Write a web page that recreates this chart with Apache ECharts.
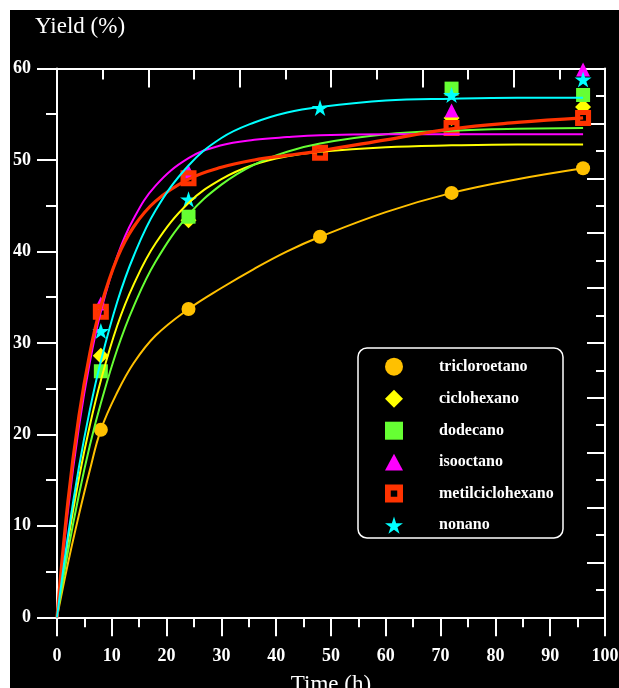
<!DOCTYPE html>
<html><head><meta charset="utf-8">
<script src="https://cdn.jsdelivr.net/npm/echarts@6/dist/echarts.min.js"></script>
<style>html,body{margin:0;padding:0;background:#fff;}#c{position:absolute;left:10px;top:10px;width:609px;height:678px;background:#000;}</style>
</head><body><div id="c"></div>
<script>
// ---- data ----
const seriesNames = ['tricloroetano','ciclohexano','dodecano','isooctano','metilciclohexano','nonano'];
const seriesColors = ['#FFC000','#FFFF00','#66FF33','#FF00FF','#FF3300','#00FFFF'];

// fitted curves
const fitTime = [0, 2, 4, 6, 8, 11, 14, 18, 24, 30, 36, 42, 48, 60, 72, 84, 96];
const fitTricloroetano    = [0, 5.9, 11.2, 16.1, 20.5, 24.6, 27.8, 30.8, 33.7, 36.0, 38.1, 40.0, 41.6, 44.3, 46.4, 47.9, 49.1];
const fitCiclohexano      = [0, 8.3, 15.2, 21.0, 25.9, 31.9, 36.4, 40.9, 45.3, 47.9, 49.5, 50.4, 50.9, 51.4, 51.6, 51.7, 51.7];
const fitDodecano         = [0, 7.2, 13.4, 18.8, 23.4, 29.3, 34.0, 38.9, 44.0, 47.3, 49.5, 50.9, 51.8, 52.8, 53.2, 53.4, 53.5];
const fitIsooctano        = [0, 11.7, 20.8, 27.9, 33.4, 39.5, 43.6, 47.2, 50.2, 51.6, 52.2, 52.5, 52.7, 52.8, 52.8, 52.8, 52.8];
const fitMetilciclohexano = [0, 12.7, 22.0, 28.9, 34.0, 39.3, 42.7, 45.5, 47.9, 49.2, 50.0, 50.5, 51.0, 52.2, 53.4, 54.1, 54.6];
const fitNonano           = [0, 8.9, 16.4, 22.7, 28.0, 34.5, 39.5, 44.5, 49.4, 52.4, 54.1, 55.2, 55.8, 56.5, 56.7, 56.8, 56.8];

// measured points
const timeTricloroetano = [8, 24, 48, 72, 96];
const yieldTricloroetano = [20.5, 33.7, 41.6, 46.4, 49.1];
const timeCiclohexano = [8, 24, 72, 96];
const yieldCiclohexano = [28.6, 43.4, 54.6, 55.8];
const timeDodecano = [8, 24, 72, 96];
const yieldDodecano = [26.9, 43.8, 57.8, 57.1];
const timeIsooctano = [8, 24, 72, 96];
const yieldIsooctano = [34.3, 48.7, 55.4, 59.9];
const timeMetilciclohexano = [8, 24, 48, 72, 96];
const yieldMetilciclohexano = [33.4, 48.0, 50.8, 53.5, 54.6];
const timeNonano = [8, 24, 48, 72, 96];
const yieldNonano = [31.3, 45.7, 55.7, 57.1, 58.8];

// axis ticks
const xTicks = [0, 100, 10];
const yTicks = [0, 60, 10];

// ---- chart ----
const starPath = 'path://M50,0L61.2,34.5L97.6,34.5L68.2,55.9L79.4,90.5L50,69.1L20.6,90.5L31.8,55.9L2.4,34.5L38.8,34.5Z';
const hollowSquare = 'path://M0,0H10V10H0Z M3.2,3.2V6.8H6.8V3.2Z';
const symbols = ['circle','diamond','rect','triangle',hollowSquare,starPath];
const legendIcons = ['circle','diamond','path://M0,0H10V10H0Z','path://M5,0L10,9.4L0,9.4Z',hollowSquare,starPath];
const symbolSizes = [14, 16, 14, 14, 16, 17];

const fits = [fitTricloroetano, fitCiclohexano, fitDodecano, fitIsooctano, fitMetilciclohexano, fitNonano];
const times = [timeTricloroetano, timeCiclohexano, timeDodecano, timeIsooctano, timeMetilciclohexano, timeNonano];
const yields = [yieldTricloroetano, yieldCiclohexano, yieldDodecano, yieldIsooctano, yieldMetilciclohexano, yieldNonano];

const serif = 'Liberation Serif';
const white = '#fff';

const series = [];
fits.forEach((f, i) => {
  series.push({
    name: 'fit ' + seriesNames[i], type: 'line', smooth: 0.4,
    symbol: 'none', silent: true, xAxisIndex: 0, yAxisIndex: 0,
    lineStyle: {color: seriesColors[i], width: i === 4 ? 3.2 : 2},
    data: fitTime.map((t, j) => [t, f[j]])
  });
});
yields.forEach((ys, i) => {
  series.push({
    name: seriesNames[i], type: 'scatter', symbol: symbols[i], symbolSize: symbolSizes[i],
    symbolKeepAspect: true, xAxisIndex: 0, yAxisIndex: 0, clip: false,
    itemStyle: {color: seriesColors[i], opacity: 1},
    data: times[i].map((t, j) => [t, ys[j]])
  });
});

const chart = echarts.init(document.getElementById('c'));
chart.setOption({
  animation: false,
  backgroundColor: '#000',
  title: {text: 'Yield (%)', left: 25, top: 5, padding: 0,
    textStyle: {color: white, fontFamily: serif, fontWeight: 'normal', fontSize: 23}},
  grid: {left: 47, top: 58.5, right: 14, bottom: 70.7, containLabel: false, outerBoundsMode: 'none'},
  xAxis: [
    {type: 'value', position: 'bottom', min: xTicks[0], max: xTicks[1], interval: xTicks[2],
      name: 'Time (h)', nameLocation: 'middle', nameGap: 56,
      nameTextStyle: {color: white, fontFamily: serif, fontSize: 23},
      axisLine: {show: true, onZero: false, lineStyle: {color: white, width: 2}},
      axisTick: {show: true, inside: false, length: 19, lineStyle: {color: white, width: 2}},
      minorTick: {show: true, splitNumber: 2, length: 10, lineStyle: {color: white, width: 2}},
      splitLine: {show: false},
      axisLabel: {color: white, fontFamily: serif, fontWeight: 'bold', fontSize: 18, margin: 30}},
    {type: 'value', position: 'top', min: 0, max: 60, interval: 10,
      axisLine: {show: true, onZero: false, lineStyle: {color: white, width: 2}},
      axisTick: {show: true, inside: true, length: 19, lineStyle: {color: white, width: 2}},
      minorTick: {show: true, splitNumber: 2, length: 11, lineStyle: {color: white, width: 2}},
      splitLine: {show: false}, axisLabel: {show: false}}
  ],
  yAxis: [
    {type: 'value', position: 'left', min: yTicks[0], max: yTicks[1], interval: yTicks[2],
      axisLine: {show: true, onZero: false, lineStyle: {color: white, width: 2}},
      axisTick: {show: true, inside: false, length: 20, lineStyle: {color: white, width: 2}},
      minorTick: {show: true, splitNumber: 2, length: 11, lineStyle: {color: white, width: 2}},
      splitLine: {show: false},
      axisLabel: {color: white, fontFamily: serif, fontWeight: 'bold', fontSize: 18, margin: 26}},
    {type: 'value', position: 'right', min: 0, max: 100, interval: 10,
      axisLine: {show: true, onZero: false, lineStyle: {color: white, width: 2}},
      axisTick: {show: true, inside: true, length: 18, lineStyle: {color: white, width: 2}},
      minorTick: {show: true, splitNumber: 2, length: 9, lineStyle: {color: white, width: 2}},
      splitLine: {show: false}, axisLabel: {show: false}}
  ],
  legend: {
    data: seriesNames.map((n, i) => ({name: n, icon: legendIcons[i]})),
    orient: 'vertical', left: 375, top: 347.7, padding: 0,
    itemWidth: 18, itemHeight: 18, itemGap: 14, selectedMode: false, symbolKeepAspect: true,
    textStyle: {color: white, fontFamily: serif, fontWeight: 'bold', fontSize: 16, padding: [0, 0, 0, 31]}
  },
  graphic: [{
    type: 'rect', shape: {x: 348, y: 338, width: 205, height: 190, r: 9},
    style: {fill: 'transparent', stroke: white, lineWidth: 1.5}, silent: true
  }],
  series: series
});
</script></body></html>
